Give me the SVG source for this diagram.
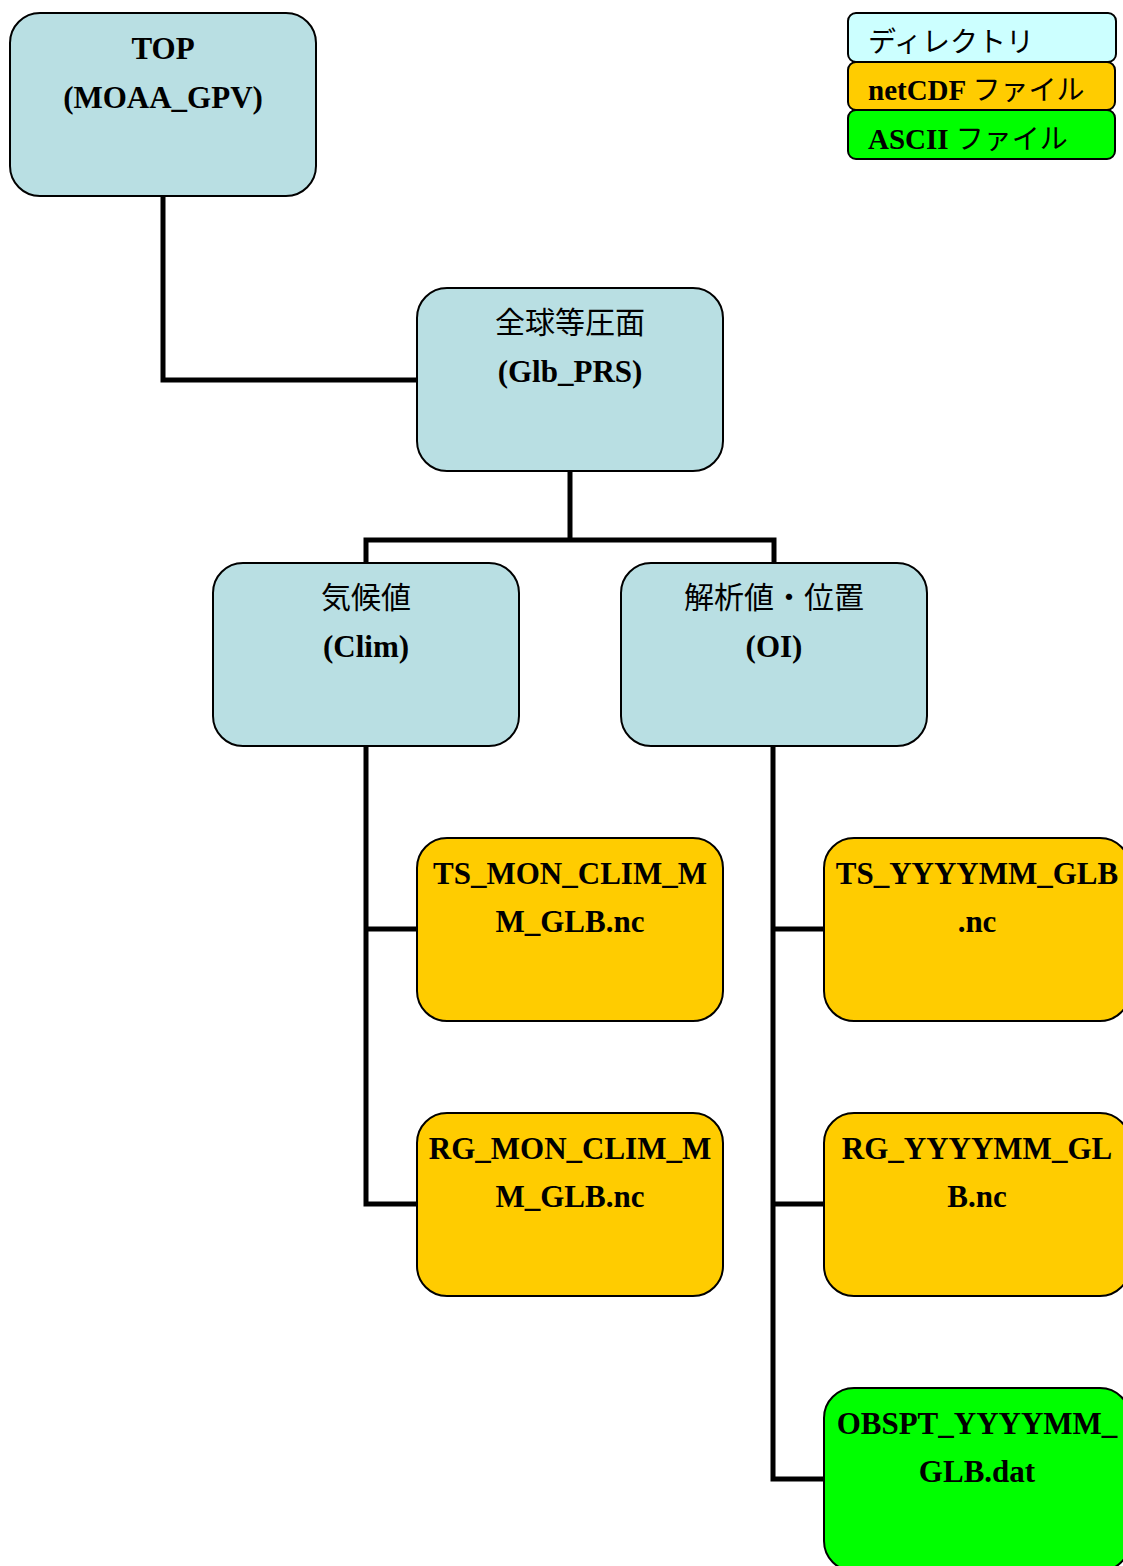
<svg xmlns="http://www.w3.org/2000/svg" width="1123" height="1566" viewBox="0 0 1123 1566">
<style>
.n rect{stroke:#000;stroke-width:2}
.dir rect{fill:#b9dfe3}
.nc rect{fill:#ffcc00}
.asc rect{fill:#00ff00}
.t{font-family:"Liberation Serif","Noto Sans CJK JP",serif;font-weight:bold;font-size:31px;text-anchor:middle;fill:#000}
.j{font-family:"Noto Sans CJK JP","Noto Sans",sans-serif;font-weight:normal;font-size:30px;text-anchor:middle;fill:#000}
.lg rect{stroke:#000;stroke-width:2}
.lt{font-family:"Liberation Serif","Noto Sans CJK JP",serif;font-weight:bold;font-size:29px;fill:#000}
.lj{font-family:"Noto Sans CJK JP","Noto Sans",sans-serif;font-weight:normal;font-size:28px}
#connectors path{fill:none;stroke:#000;stroke-width:5;stroke-linejoin:miter}
</style>
<rect width="1123" height="1566" fill="#fff"/>
<g id="connectors">
<path d="M163 196 V380 H417"/>
<path d="M570 471 V540"/>
<path d="M366 563 V540 H774 V563"/>
<path d="M366 746 V1204 H417"/>
<path d="M366 929 H417"/>
<path d="M773 746 V1479 H824"/>
<path d="M773 929 H824"/>
<path d="M773 1204 H824"/>
</g>
<g id="top" class="n dir"><rect x="10" y="13" width="306" height="183" rx="30"/><text class="t" x="163" y="59">TOP</text><text class="t" x="163" y="108">(MOAA_GPV)</text></g>
<g id="glb" class="n dir"><rect x="417" y="288" width="306" height="183" rx="30"/><text class="j" x="570" y="333">全球等圧面</text><text class="t" x="570" y="382">(Glb_PRS)</text></g>
<g id="clim" class="n dir"><rect x="213" y="563" width="306" height="183" rx="30"/><text class="j" x="366" y="608">気候値</text><text class="t" x="366" y="657">(Clim)</text></g>
<g id="oi" class="n dir"><rect x="621" y="563" width="306" height="183" rx="30"/><text class="j" x="774" y="608">解析値・位置</text><text class="t" x="774" y="657">(OI)</text></g>
<g id="ts_clim" class="n nc"><rect x="417" y="838" width="306" height="183" rx="30"/><text class="t" x="570" y="884">TS_MON_CLIM_M</text><text class="t" x="570" y="932">M_GLB.nc</text></g>
<g id="ts_oi" class="n nc"><rect x="824" y="838" width="306" height="183" rx="30"/><text class="t" x="977" y="884">TS_YYYYMM_GLB</text><text class="t" x="977" y="932">.nc</text></g>
<g id="rg_clim" class="n nc"><rect x="417" y="1113" width="306" height="183" rx="30"/><text class="t" x="570" y="1159">RG_MON_CLIM_M</text><text class="t" x="570" y="1207">M_GLB.nc</text></g>
<g id="rg_oi" class="n nc"><rect x="824" y="1113" width="306" height="183" rx="30"/><text class="t" x="977" y="1159">RG_YYYYMM_GL</text><text class="t" x="977" y="1207">B.nc</text></g>
<g id="obspt" class="n asc"><rect x="824" y="1388" width="306" height="183" rx="30"/><text class="t" x="977" y="1434">OBSPT_YYYYMM_</text><text class="t" x="977" y="1482">GLB.dat</text></g>
<g id="legend" class="lg">
<g id="lg_dir"><rect x="848" y="13" width="268" height="49" rx="8" fill="#ccffff"/><text class="lj" x="868" y="52">ディレクトリ</text></g>
<g id="lg_nc"><rect x="848" y="62" width="267" height="48" rx="8" fill="#ffcc00"/><text class="lt" x="868" y="100">netCDF <tspan class="lj">ファイル</tspan></text></g>
<g id="lg_asc"><rect x="848" y="110" width="267" height="49" rx="8" fill="#00ff00"/><text class="lt" x="868" y="149">ASCII <tspan class="lj">ファイル</tspan></text></g>
</g>
</svg>
